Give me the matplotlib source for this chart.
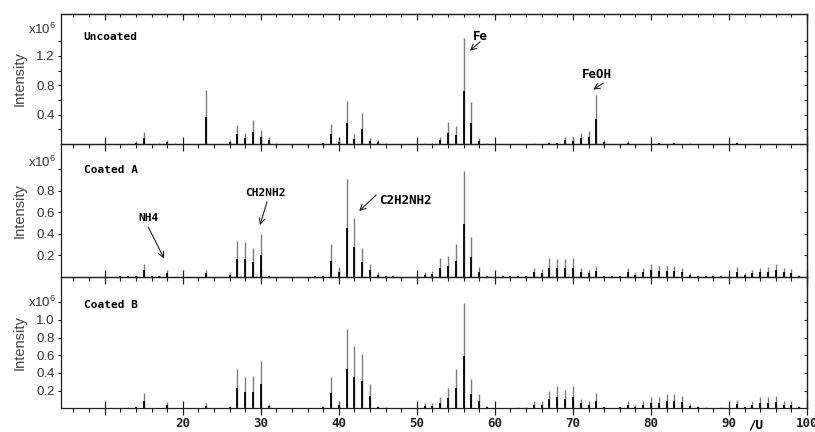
import numpy as np
import matplotlib.pyplot as plt
import matplotlib.transforms as mtransforms
from matplotlib.ticker import FixedLocator, MultipleLocator, NullFormatter

plt.rcParams['font.family'] = ['Liberation Sans', 'DejaVu Sans']
plt.rcParams['mathtext.fontset'] = 'custom'
plt.rcParams['mathtext.rm'] = 'Liberation Sans'
plt.rcParams['mathtext.it'] = 'Liberation Sans:italic'

# peak positions (m/z) and intensities (x10^6)
uncoated_mz = [14, 15, 17, 18, 19, 23, 26, 27, 28, 29, 30, 31, 32,
               38, 39, 40, 41, 42, 43, 44, 45, 46, 51, 52, 53, 54, 55, 56, 57, 58, 59,
               65, 67, 68, 69, 70, 71, 72, 73, 74, 77, 81, 83, 85, 91]
uncoated_int = [0.04, 0.16, 0.01, 0.05, 0.01, 0.73, 0.05, 0.26, 0.15, 0.33, 0.19, 0.10, 0.01,
                0.02, 0.27, 0.05, 0.58, 0.14, 0.42, 0.08, 0.06, 0.01, 0.01, 0.01, 0.10, 0.30, 0.24, 1.45, 0.57, 0.08, 0.01,
                0.01, 0.03, 0.02, 0.10, 0.08, 0.15, 0.18, 0.67, 0.05, 0.04, 0.02, 0.02, 0.01, 0.02]

coated_a_mz = [12, 13, 14, 15, 16, 17, 18, 23, 26, 27, 28, 29, 30, 31,
               37, 38, 39, 40, 41, 42, 43, 44, 45, 46, 47,
               51, 52, 53, 54, 55, 56, 57, 58, 59, 61, 62, 63, 64,
               65, 66, 67, 68, 69, 70, 71, 72, 73, 74, 75, 76,
               77, 78, 79, 80, 81, 82, 83, 84, 85, 86, 87, 88, 89,
               91, 92, 93, 94, 95, 96, 97, 98, 99]
coated_a_int = [0.01, 0.01, 0.02, 0.12, 0.01, 0.01, 0.06, 0.06, 0.04, 0.33, 0.32, 0.27, 0.40, 0.02,
                0.01, 0.02, 0.30, 0.09, 0.91, 0.55, 0.27, 0.12, 0.04, 0.01, 0.01,
                0.04, 0.05, 0.17, 0.19, 0.30, 0.98, 0.37, 0.09, 0.01, 0.01, 0.01, 0.01, 0.01,
                0.08, 0.07, 0.17, 0.16, 0.16, 0.17, 0.08, 0.06, 0.10, 0.01, 0.01, 0.01,
                0.08, 0.04, 0.08, 0.12, 0.10, 0.10, 0.10, 0.08, 0.03, 0.01, 0.01, 0.01, 0.01,
                0.09, 0.03, 0.06, 0.08, 0.09, 0.12, 0.08, 0.07, 0.02]

coated_b_mz = [13, 14, 15, 18, 23, 26, 27, 28, 29, 30, 31,
               38, 39, 40, 41, 42, 43, 44, 45, 46,
               51, 52, 53, 54, 55, 56, 57, 58, 59, 63, 64,
               65, 66, 67, 68, 69, 70, 71, 72, 73, 74, 76,
               77, 78, 79, 80, 81, 82, 83, 84, 85, 86, 87, 89,
               91, 92, 93, 94, 95, 96, 97, 98, 99]
coated_b_int = [0.01, 0.03, 0.17, 0.07, 0.06, 0.03, 0.45, 0.36, 0.37, 0.54, 0.05,
                0.03, 0.35, 0.08, 0.90, 0.70, 0.61, 0.28, 0.03, 0.01,
                0.06, 0.06, 0.13, 0.23, 0.45, 1.19, 0.33, 0.16, 0.03, 0.01, 0.01,
                0.08, 0.08, 0.20, 0.25, 0.21, 0.25, 0.11, 0.08, 0.17, 0.02, 0.02,
                0.08, 0.04, 0.08, 0.13, 0.13, 0.16, 0.16, 0.14, 0.05, 0.03, 0.01, 0.01,
                0.09, 0.03, 0.08, 0.13, 0.13, 0.14, 0.08, 0.08, 0.03]

panel_names = ['Uncoated', 'Coated A', 'Coated B']
y_max = [1.77, 1.234, 1.49]
y_labeled = [[0.4, 0.8, 1.2], [0.2, 0.4, 0.6, 0.8], [0.2, 0.4, 0.6, 0.8, 1.0]]
y_extra = [[0.2, 0.6, 1.0, 1.4], [1.0], [1.2]]
x_major = list(range(10, 101, 10))
x_labels = [''] + [str(v) for v in range(20, 101, 10)]

mono = 'DejaVu Sans Mono'
W, H = 815, 432
fig = plt.figure(figsize=(W / 100, H / 100), dpi=100)
left, right = 61 / W, 807 / W
edges = [14, 144, 276.7, 408.3]

series = [(uncoated_mz, uncoated_int), (coated_a_mz, coated_a_int), (coated_b_mz, coated_b_int)]
axes = []
for i, (mz, inten) in enumerate(series):
    bottom = 1 - edges[i + 1] / H
    height = (edges[i + 1] - edges[i]) / H
    ax = fig.add_axes([left, bottom, right - left, height])
    ax.set_facecolor('none')
    inten = np.asarray(inten)
    # thin grey stick to full height, darker lower half
    ax.vlines(mz, 0, inten, color='#7c7c7c', lw=1.0)
    ax.vlines(mz, 0, inten * 0.5, color='black', lw=1.3)

    ax.set_xlim(4.4, 100)
    ax.set_ylim(0, y_max[i])
    for s in ax.spines.values():
        s.set_color('#222222')
        s.set_linewidth(0.9)

    ax.xaxis.set_major_locator(FixedLocator(x_major))
    ax.xaxis.set_minor_locator(MultipleLocator(2))
    if i == 2:
        ax.set_xticklabels(x_labels, fontfamily=mono, fontweight='bold', fontsize=9)
    else:
        ax.xaxis.set_major_formatter(NullFormatter())
    ax.tick_params(axis='x', which='major', direction='inout', length=10, width=0.9,
                   pad=1.5, colors='#222222', top=False)
    ax.tick_params(axis='x', which='minor', direction='out', length=3, width=0.8,
                   colors='#222222', top=False)

    ax.yaxis.set_major_locator(FixedLocator(y_labeled[i]))
    ax.yaxis.set_minor_locator(FixedLocator(y_extra[i]))
    ax.set_yticklabels([f'{v:.1f}' for v in y_labeled[i]], fontsize=9.5, color='#333333')
    ax.tick_params(axis='y', which='both', direction='out', length=2.5, width=0.8,
                   pad=2, colors='#222222', right=False)
    for lab in ax.get_yticklabels():
        lab.set_color('#333333')

    # inward ticks on the right spine
    sec_y = ax.secondary_yaxis('right')
    sec_y.yaxis.set_major_locator(FixedLocator(y_labeled[i] + y_extra[i]))
    sec_y.yaxis.set_major_formatter(NullFormatter())
    sec_y.tick_params(direction='in', length=2.5, width=0.8, colors='#222222')
    sec_y.spines['right'].set_linewidth(0.9)
    sec_y.spines['right'].set_color('#222222')

    ax.set_ylabel('Intensity', fontsize=10.5, color='#444444')
    ax.yaxis.set_label_coords(-0.046, 0.5)

    fig.text(28 / W, 1 - [29, 162, 302][i] / H, r'x10$^6$', fontsize=9.5,
             color='#333333', va='center', ha='left')
    ax.text(7.3, 0.0, panel_names[i], fontfamily=mono, fontweight='bold', fontsize=8,
            va='center', ha='left')
    axes.append(ax)

# panel-name heights in data units
for ax, yv in zip(axes, [1.46, 0.99, 1.17]):
    ax.texts[-1].set_y(yv)

# inward ticks along the top of the upper panel
sec_x = axes[0].secondary_xaxis('top')
sec_x.xaxis.set_major_locator(FixedLocator(x_major))
sec_x.xaxis.set_minor_locator(MultipleLocator(2))
sec_x.xaxis.set_major_formatter(NullFormatter())
sec_x.tick_params(which='major', direction='in', length=4.5, width=0.9, colors='#222222')
sec_x.tick_params(which='minor', direction='in', length=1.8, width=0.8, colors='#222222')
sec_x.spines['top'].set_linewidth(0.9)
sec_x.spines['top'].set_color('#222222')

arrow = dict(arrowstyle='->', lw=0.8, color='#222222', shrinkA=0, shrinkB=0)
lab_kw = dict(fontfamily=mono, fontweight='bold', ha='center', va='center')

ax0, ax1, ax2 = axes
ax0.text(58.2, 1.47, 'Fe', fontsize=9, **lab_kw)
ax0.annotate('', xy=(56.8, 1.27), xytext=(58.1, 1.39), arrowprops=arrow)
ax0.text(73.1, 0.94, 'FeOH', fontsize=9, **lab_kw)
ax0.annotate('', xy=(72.6, 0.74), xytext=(73.9, 0.83), arrowprops=arrow)

ax1.text(15.6, 0.55, 'NH4', fontsize=8, **lab_kw)
ax1.annotate('', xy=(17.6, 0.17), xytext=(15.6, 0.46), arrowprops=arrow)
ax1.text(30.6, 0.78, 'CH2NH2', fontsize=8, **lab_kw)
ax1.annotate('', xy=(29.9, 0.48), xytext=(30.8, 0.695), arrowprops=arrow)
ax1.text(45.2, 0.707, 'C2H2NH2', fontsize=9, fontfamily=mono, fontweight='bold',
         ha='left', va='center')
ax1.annotate('', xy=(42.6, 0.61), xytext=(44.8, 0.76), arrowprops=arrow)

# unit label next to the 90 tick
trans = mtransforms.blended_transform_factory(ax2.transData, ax2.transAxes)
ax2.text(93.4, -0.125, '/U', transform=trans, fontsize=9, **lab_kw)

fig.savefig('out.png', dpi=100)
